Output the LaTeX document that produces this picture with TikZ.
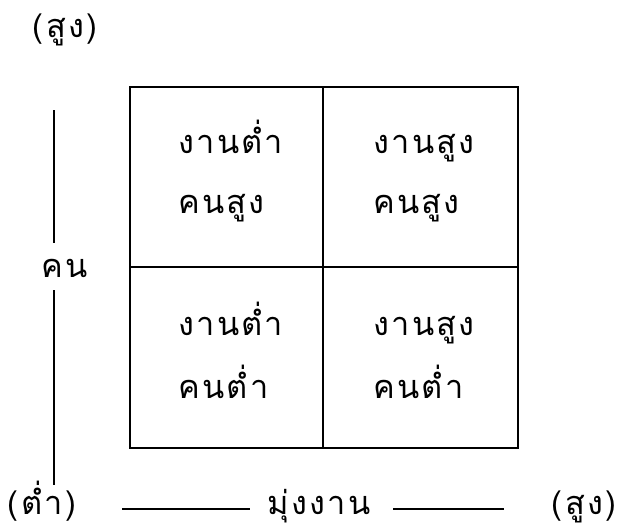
\documentclass[tikz,border=0pt]{standalone}
\usepackage{fontspec}
\newfontfamily\thaifont[Script=Thai,LetterSpace=7]{Loma}
\usepackage{tikz}
\usetikzlibrary{positioning,calc}
\tikzset{
	cell/.style={anchor=base west,inner sep=0pt,font=\thaifont\fontsize{18.5}{22}\selectfont},
	lbl/.style={anchor=base,inner sep=0pt,font=\thaifont\fontsize{18.5}{22}\selectfont},
	grid/.style={line width=1.2pt},
	axis/.style={line width=0.9pt}
}
\newcommand\paren[1]{(\kern1.5pt#1\kern1.5pt)}
\begin{document}
\begin{tikzpicture}[x=0.02cm,y=-0.02cm]
	\useasboundingbox (0,0) rectangle (622,531);
	% the four cells
	\draw[grid] (130,87) rectangle (518,448);
	\draw[grid] (323,87) -- (323,448);
	\draw[grid] (130,267) -- (518,267);
	\foreach \n/\x/\y/\t in {ll1/178/153/{งานต่ำ},ll2/178/213/{คนสูง},lr1/373/153/{งานสูง},lr2/373/213/{คนสูง},
		ul1/178/335/{งานต่ำ},ul2/178/398/{คนต่ำ},ur1/373/335/{งานสูง},ur2/373/398/{คนต่ำ}}
		\node[cell] (\n) at (\x,\y) {\t};
	% vertical axis
	\node[lbl] (hi) at (65,37) {\paren{สูง}};
	\node[lbl] (kon) at (65,277) {คน};
	\coordinate (ytop) at (54,110);
	\coordinate (ybot) at (54,485);
	\draw[axis] (ytop) -- (ytop |- {0,243});
	\draw[axis] (ybot |- {0,290}) -- (ybot);
	% horizontal axis
	\node[lbl] (low) at (42,514) {\paren{ต่ำ}};
	\node[lbl] (work) at (319,514) {มุ่งงาน};
	\node[lbl] (high) at (584,514) {\paren{สูง}};
	\coordinate (xa) at (122,509);
	\coordinate (xb) at (504,509);
	\draw[axis] (xa) -- (xa -| {250,0});
	\draw[axis] (xb -| {393,0}) -- (xb);
\end{tikzpicture}
\end{document}
